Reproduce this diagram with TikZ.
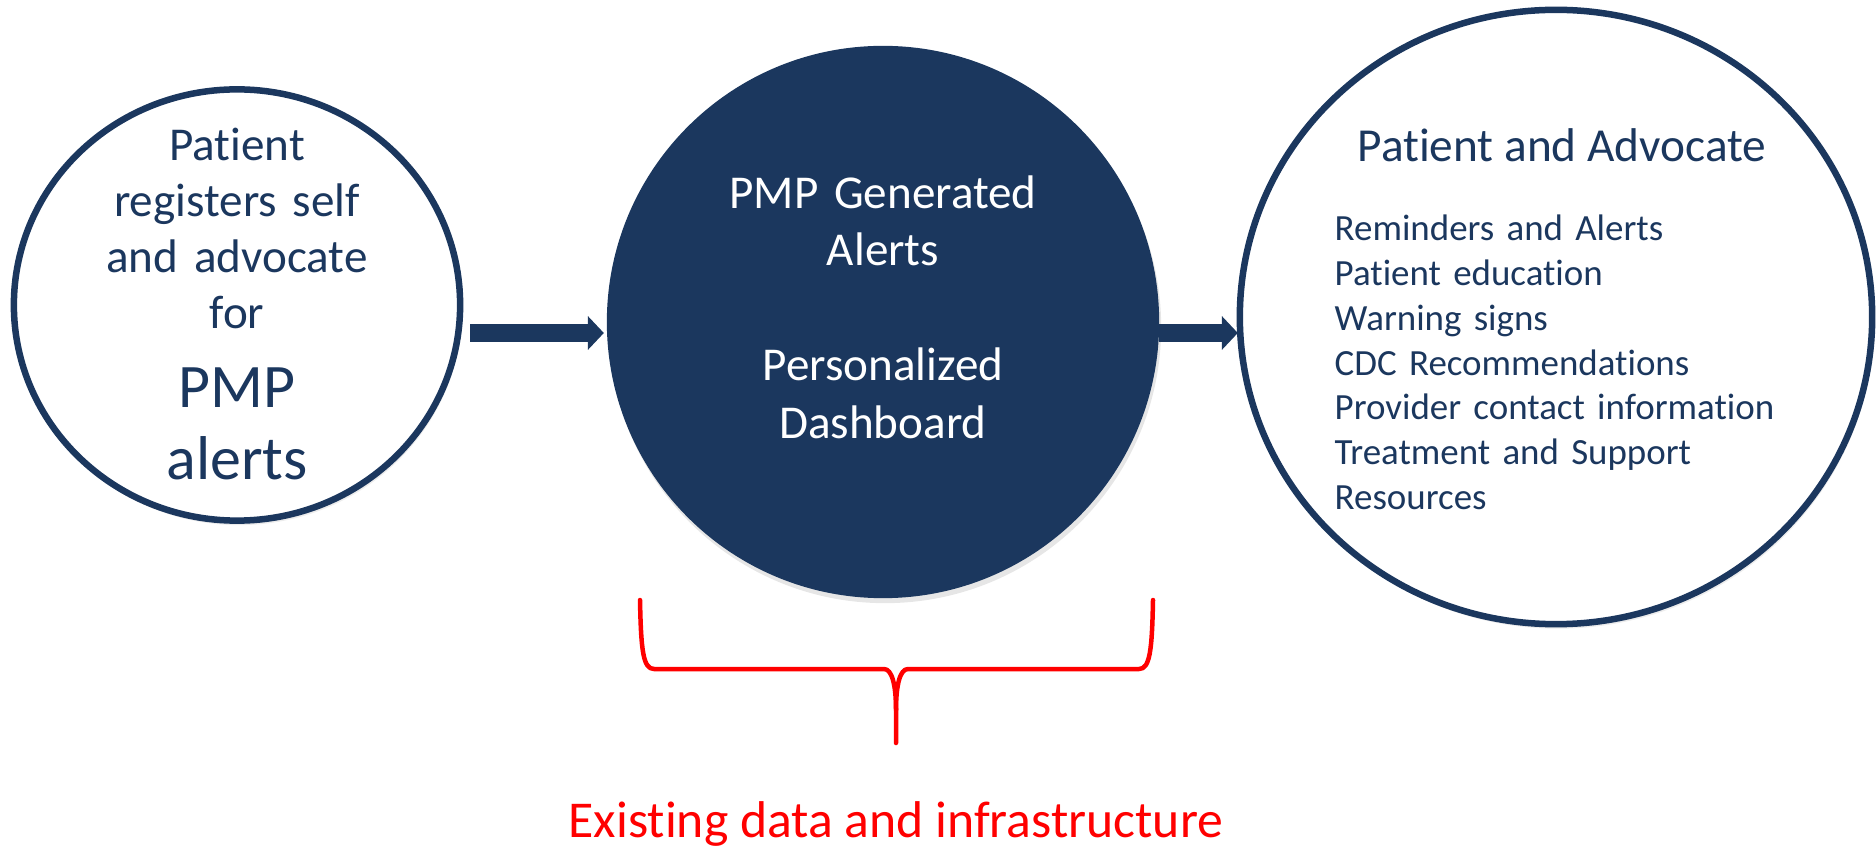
\documentclass[tikz,border=0pt]{standalone}
\usepackage{fontspec}
\setmainfont{Carlito}[Ligatures=CommonOff]
\usetikzlibrary{arrows.meta,shapes.geometric,shadows}
\definecolor{pmpnavy}{HTML}{1B375E}
\definecolor{pmpred}{HTML}{FF0000}

\begin{document}
\begin{tikzpicture}[x=0.01cm,y=-0.01cm,
  ring/.style={ellipse, draw=pmpnavy, line width=0.065cm, fill=white, inner sep=0pt, outer sep=0pt,
    drop shadow={shadow xshift=0.02cm, shadow yshift=-0.045cm, opacity=0.15}},
  hub/.style={circle, fill=pmpnavy, inner sep=0pt, outer sep=0pt, minimum size=5.52cm,
    drop shadow={shadow xshift=0.02cm, shadow yshift=-0.05cm, opacity=0.2}},
  flow/.style={pmpnavy, line width=0.17cm, -{Triangle[length=0.16cm,width=0.33cm]}},
  brace/.style={pmpred, line width=0.045cm, line cap=round, line join=round},
  lbl/.style={inner sep=0pt, text width=#1, align=center, anchor=base}]
\useasboundingbox (0,0) rectangle (1876,846);

% Three stages
\node[ring, minimum width=4.46cm, minimum height=4.31cm] (pat) at (237,305) {};
\node[hub] (pmp) at (883,322) {};
\node[ring, minimum width=6.32cm, minimum height=6.14cm] (adv) at (1556,317) {};

% Left circle text
\node[lbl=4cm, text=pmpnavy, font=\fontsize{13.4}{15.85}\selectfont] (pattop) at (237,161)
  {Patient\\registers self\\and advocate\\for};
\node[lbl=4cm, text=pmpnavy, font=\fontsize{17.6}{20.5}\selectfont] (patbig) at (237,407)
  {PMP\\alerts};

% Middle circle text
\node[lbl=4.5cm, text=white, font=\fontsize{13.4}{16.2}\selectfont] (pmptop) at (883,209)
  {PMP Generated\\Alerts};
\node[lbl=4.5cm, text=white, font=\fontsize{13.4}{16.4}\selectfont] (pmpbot) at (883,381)
  {Personalized\\Dashboard};

% Right circle text
\node[text=pmpnavy, inner sep=0pt, anchor=base, font=\fontsize{13.46}{16}\selectfont]
  (advhead) at (1562,162) {Patient and Advocate};
\node[text=pmpnavy, inner sep=0pt, text width=5cm, align=left, anchor=base west,
  font=\fontsize{10.5}{12.72}\selectfont] (advlist) at (1334,241)
  {Reminders and Alerts\\Patient education\\Warning signs\\CDC Recommendations\\
   Provider contact information\\Treatment and Support\\Resources};

% Arrows
\draw[flow] ([shift={(10,28)}]pat.east) -- ([shift={(-3,11)}]pmp.west);
\draw[flow] ([shift={(0,11)}]pmp.east) -- ([shift={(-2,16)}]adv.west);

% Bracket under the dashboard
\draw[brace] (640,600) .. controls (641,650) and (643,669) .. (654,669) -- (884,669)
  .. controls (892,669) and (896,685) .. (896,710) -- (896,743);
\draw[brace] (1153,600) .. controls (1152,650) and (1150,669) .. (1139,669) -- (908,669)
  .. controls (900,669) and (896,685) .. (896,710);
\node[text=pmpred, inner sep=0pt, anchor=base, font=\fontsize{14.7}{17}\selectfont]
  (infra) at (896,837) {Existing data and infrastructure};
\end{tikzpicture}
\end{document}
